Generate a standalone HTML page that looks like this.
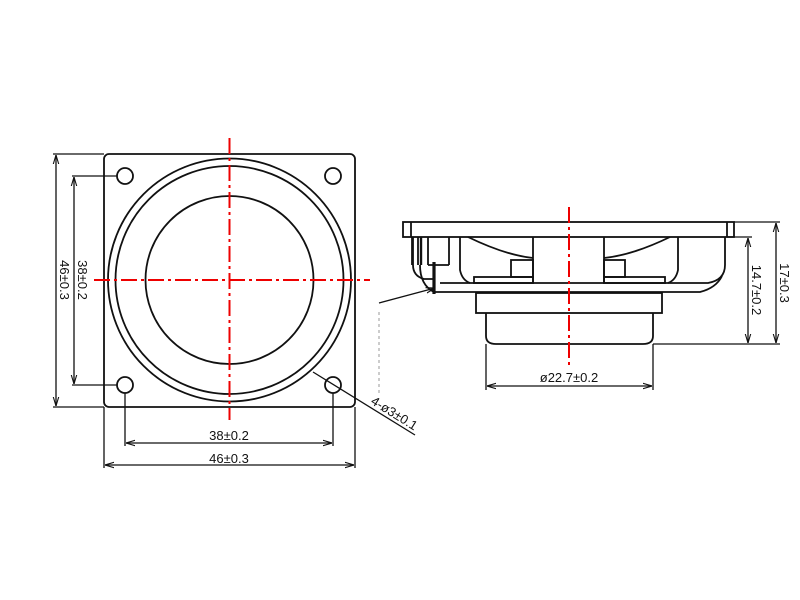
<!DOCTYPE html>
<html><head><meta charset="utf-8"><style>html,body{margin:0;padding:0;background:#fff}svg{display:block}text{font-family:"Liberation Sans",sans-serif;font-size:13px;fill:#111}</style></head>
<body>
<svg width="800" height="600" viewBox="0 0 800 600" xmlns="http://www.w3.org/2000/svg">
<defs>
<marker id="a" viewBox="0 0 10 10" refX="10" refY="5" markerWidth="7" markerHeight="7" orient="auto-start-reverse"><path d="M0,2 L10,5 L0,8" fill="none" stroke="#111" stroke-width="1.2"/></marker>
</defs>
<g fill="none" stroke="#111" stroke-width="1.8">
<rect x="104" y="154" width="251" height="253" rx="5"/>
<circle cx="229.5" cy="280" r="121.5"/>
<circle cx="229.5" cy="280" r="114"/>
<circle cx="229.5" cy="280" r="84"/>
<circle cx="125" cy="176" r="8"/>
<circle cx="333" cy="176" r="8"/>
<circle cx="125" cy="385" r="8"/>
<circle cx="333" cy="385" r="8"/>
<line x1="72" y1="176" x2="117" y2="176" stroke-width="1.3"/>
<line x1="72" y1="385" x2="117" y2="385" stroke-width="1.3"/>
<line x1="74" y1="177" x2="74" y2="384" stroke-width="1.3" marker-start="url(#a)" marker-end="url(#a)"/>
<line x1="53" y1="154" x2="104" y2="154" stroke-width="1.3"/>
<line x1="53" y1="407" x2="104" y2="407" stroke-width="1.3"/>
<line x1="56" y1="155" x2="56" y2="406" stroke-width="1.3" marker-start="url(#a)" marker-end="url(#a)"/>
<line x1="125" y1="393" x2="125" y2="446" stroke-width="1.3"/>
<line x1="333" y1="393" x2="333" y2="446" stroke-width="1.3"/>
<line x1="126" y1="443" x2="332" y2="443" stroke-width="1.3" marker-start="url(#a)" marker-end="url(#a)"/>
<line x1="104" y1="407" x2="104" y2="468" stroke-width="1.3"/>
<line x1="355" y1="407" x2="355" y2="468" stroke-width="1.3"/>
<line x1="105" y1="465" x2="354" y2="465" stroke-width="1.3" marker-start="url(#a)" marker-end="url(#a)"/>
<line x1="313" y1="372" x2="415" y2="435" stroke-width="1.3"/>
<line x1="379" y1="303" x2="435" y2="288" stroke-width="1.3" marker-end="url(#a)"/>
<line x1="379" y1="312" x2="379" y2="395" stroke="#999" stroke-width="1" stroke-dasharray="3,3"/>

<rect x="403" y="222" width="331" height="15"/>
<line x1="411" y1="222" x2="411" y2="237"/>
<line x1="727" y1="222" x2="727" y2="237"/>
<path d="M413,237 V265 Q413,276 424,279 H434"/>
<path d="M725,237 V265 Q725,280 708,283 H440"/>
<path d="M420,265 Q420,285 434,292 H700 Q716,288 722,276"/>
<line x1="412" y1="237" x2="412" y2="265"/>
<line x1="418" y1="237" x2="418" y2="265"/>
<line x1="421" y1="237" x2="421" y2="265" stroke-width="2.4"/>
<line x1="428" y1="237" x2="428" y2="265"/>
<line x1="449" y1="237" x2="449" y2="265"/>
<line x1="428" y1="265" x2="449" y2="265"/>
<line x1="434" y1="262" x2="434" y2="294" stroke-width="3.2"/>
<path d="M460,237 V270 Q462,280 470,283"/>
<path d="M468,237 Q505,255 533,258"/>
<path d="M670,237 Q633,255 604,258"/>
<line x1="533" y1="237" x2="533" y2="283"/>
<line x1="604" y1="237" x2="604" y2="283"/>
<rect x="511" y="260" width="22" height="17"/>
<rect x="604" y="260" width="21" height="17"/>
<rect x="474" y="277" width="59" height="6"/>
<rect x="604" y="277" width="61" height="6"/>
<path d="M678,237 V270 Q676,280 668,283"/>
<rect x="476" y="293" width="186" height="20"/>
<path d="M486,313 V336 Q486,344 496,344 H643 Q653,344 653,336 V313"/>
<line x1="486" y1="344" x2="486" y2="390" stroke-width="1.3"/>
<line x1="653" y1="344" x2="653" y2="390" stroke-width="1.3"/>
<line x1="487" y1="386" x2="652" y2="386" stroke-width="1.3" marker-start="url(#a)" marker-end="url(#a)"/>
<line x1="734" y1="222" x2="780" y2="222" stroke-width="1.3"/>
<line x1="727" y1="237" x2="752" y2="237" stroke-width="1.3"/>
<line x1="653" y1="344" x2="780" y2="344" stroke-width="1.3"/>
<line x1="776" y1="223" x2="776" y2="343" stroke-width="1.3" marker-start="url(#a)" marker-end="url(#a)"/>
<line x1="748" y1="238" x2="748" y2="343" stroke-width="1.3" marker-start="url(#a)" marker-end="url(#a)"/>
</g>
<g stroke="#e00" stroke-width="2" fill="none" stroke-dasharray="16,4,3,4">
<line x1="229.5" y1="138" x2="229.5" y2="420"/>
<line x1="94" y1="280" x2="370" y2="280"/>
<line x1="569" y1="207" x2="569" y2="368"/>
</g>
<text x="229" y="440" text-anchor="middle">38±0.2</text>
<text x="229" y="463" text-anchor="middle">46±0.3</text>
<text transform="translate(78,280) rotate(90)" text-anchor="middle">38±0.2</text>
<text transform="translate(60,280) rotate(90)" text-anchor="middle">46±0.3</text>
<text transform="translate(392,417) rotate(32)" text-anchor="middle" font-size="12">4-ø3±0.1</text>
<text x="569" y="382" text-anchor="middle">ø22.7±0.2</text>
<text transform="translate(780,283) rotate(90)" text-anchor="middle">17±0.3</text>
<text transform="translate(752,290) rotate(90)" text-anchor="middle">14.7±0.2</text>
</svg>
</body></html>
